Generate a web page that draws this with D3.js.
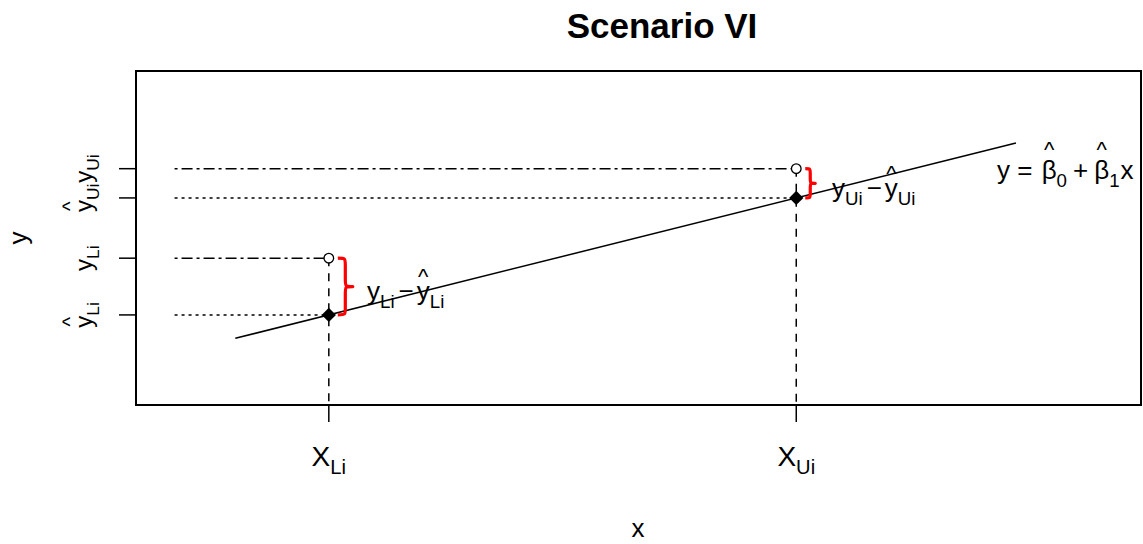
<!DOCTYPE html>
<html>
<head>
<meta charset="utf-8">
<script src="https://cdn.jsdelivr.net/npm/d3@7"></script>
<style>
  html, body { margin: 0; padding: 0; background: #fff; }
  svg { display: block; }
  text { font-family: "Liberation Sans", Arial, sans-serif; fill: #000; }
</style>
</head>
<body>
<svg id="chart" width="1143" height="544"></svg>
<script>
// Interval-valued regression, scenario VI: lower and upper bound of one observation
const pointLabels = ["Li", "Ui"];          // lower / upper bound subscripts
const xObs = [2, 6];                       // X_Li, X_Ui
const yObs = [2.97, 4.5];                  // observed y_Li, y_Ui
const yFit = [2, 4];                       // fitted ŷ_Li, ŷ_Ui
const lineX = [1.2, 7.88];                 // extent of the fitted line
const beta = [1, 0.5];                     // intercept, slope
const refStartX = 0.68;                    // where the guide lines begin
const xDomain = [0.35, 8.95];
const yDomain = [0.46, 6.17];

const W = 1143, H = 544;
const M = { left: 136, right: 1141, top: 71, bottom: 405 };

const svg = d3.select("#chart");
const x = d3.scaleLinear().domain(xDomain).range([M.left, M.right]);
const y = d3.scaleLinear().domain(yDomain).range([M.bottom, M.top]);

// Text built from pieces: plain, subscript and hatted glyphs
function richText(parent, segs, size, opts = {}) {
  const g = parent.append("g");
  let cx = 0;
  segs.forEach(s => {
    cx += s.pre || 0;
    const fs = s.sub ? size * 0.72 : size;
    const t = g.append("text")
      .attr("x", cx)
      .attr("y", s.sub ? size * 0.3 : 0)
      .attr("font-size", fs)
      .style("white-space", "pre")
      .text(s.t);
    const w = t.node().getComputedTextLength();
    if (s.hat) {
      g.append("text")
        .attr("x", cx + w / 2)
        .attr("y", -size * (s.hatLift || 0.62))
        .attr("text-anchor", "middle")
        .attr("font-size", size * 0.85)
        .text("^");
    }
    cx += w + (s.gap || 0);
  });
  if (opts.anchor === "middle") g.attr("transform", `translate(${-cx / 2},0)`);
  return g;
}

// Plot frame
svg.append("rect")
  .attr("x", M.left).attr("y", M.top)
  .attr("width", M.right - M.left).attr("height", M.bottom - M.top)
  .attr("fill", "none").attr("stroke", "#000").attr("stroke-width", 2);

// Horizontal guides: fitted values dotted, observed values dot-dash
xObs.forEach((xv, i) => {
  svg.append("line")
    .attr("x1", x(refStartX)).attr("x2", x(xv))
    .attr("y1", y(yFit[i])).attr("y2", y(yFit[i]))
    .attr("stroke", "#000").attr("stroke-width", 1.5)
    .attr("stroke-dasharray", "3,4");
  svg.append("line")
    .attr("x1", x(refStartX)).attr("x2", x(xv))
    .attr("y1", y(yObs[i])).attr("y2", y(yObs[i]))
    .attr("stroke", "#000").attr("stroke-width", 1.5)
    .attr("stroke-dasharray", "3,4,11,4");
  // vertical dashed drop to the axis
  svg.append("line")
    .attr("x1", x(xv)).attr("x2", x(xv))
    .attr("y1", y(yObs[i])).attr("y2", y(yDomain[0]))
    .attr("stroke", "#000").attr("stroke-width", 1.5)
    .attr("stroke-dasharray", "8,7");
});

// Fitted regression line
svg.append("line")
  .attr("x1", x(lineX[0])).attr("y1", y(beta[0] + beta[1] * lineX[0]))
  .attr("x2", x(lineX[1])).attr("y2", y(beta[0] + beta[1] * lineX[1]))
  .attr("stroke", "#000").attr("stroke-width", 1.5);

// Curly braces marking the residuals
function bracePath(bx, y1, y2, w) {
  const h = w / 2, ym = (y1 + y2) / 2;
  const r = Math.min(h, (y2 - y1) / 4);
  return `M${bx},${y1}` +
    `C${bx + h},${y1} ${bx + h},${y1} ${bx + h},${y1 + r}` +
    `L${bx + h},${ym - r}` +
    `C${bx + h},${ym} ${bx + h},${ym} ${bx + w},${ym}` +
    `C${bx + h},${ym} ${bx + h},${ym} ${bx + h},${ym + r}` +
    `L${bx + h},${y2 - r}` +
    `C${bx + h},${y2} ${bx + h},${y2} ${bx},${y2}`;
}
const braceW = [15, 10];
xObs.forEach((xv, i) => {
  svg.append("path")
    .attr("d", bracePath(x(xv) + 9, y(yObs[i]), y(yFit[i]), braceW[i]))
    .attr("fill", "none").attr("stroke", "#ff0000").attr("stroke-width", 3.2)
    .attr("stroke-linejoin", "round");
});

// Observed (open circle) and fitted (filled diamond) points
xObs.forEach((xv, i) => {
  svg.append("circle")
    .attr("cx", x(xv)).attr("cy", y(yObs[i])).attr("r", 4.8)
    .attr("fill", "#fff").attr("stroke", "#000").attr("stroke-width", 1.3);
  svg.append("path")
    .attr("d", d3.symbol(d3.symbolDiamond2, 130)())
    .attr("transform", `translate(${x(xv)},${y(yFit[i])})`)
    .attr("fill", "#000");
});

// Residual labels
const resid = [
  { px: 367, py: 300 },
  { px: 832, py: 197 }
];
pointLabels.forEach((lab, i) => {
  const g = richText(svg, [
    { t: "y" }, { t: lab, sub: true, gap: 4 },
    { t: "\u2212", gap: 3 },
    { t: "y", hat: true }, { t: lab, sub: true }
  ], 26);
  g.attr("transform", `translate(${resid[i].px},${resid[i].py})`);
});

// Model equation
const eq = richText(svg, [
  { t: "y = ", gap: 2 },
  { t: "\u03b2", hat: true, hatLift: 0.84 }, { t: "0", sub: true, gap: 6 },
  { t: "+", gap: 6 },
  { t: "\u03b2", hat: true, hatLift: 0.84 }, { t: "1", sub: true, gap: 1 },
  { t: "x" }
], 26);
eq.attr("transform", "translate(997,179)");

// X axis ticks and labels
xObs.forEach((xv, i) => {
  svg.append("line")
    .attr("x1", x(xv)).attr("x2", x(xv))
    .attr("y1", M.bottom).attr("y2", M.bottom + 17)
    .attr("stroke", "#000").attr("stroke-width", 1.5);
  const g = svg.append("g").attr("transform", `translate(${x(xv)},466)`);
  richText(g, [{ t: "X" }, { t: pointLabels[i], sub: true }], 28, { anchor: "middle" });
});

// Y axis ticks with rotated labels
const yTicks = [
  { v: yFit[0], hat: true, lab: pointLabels[0] },
  { v: yObs[0], hat: false, lab: pointLabels[0] },
  { v: yFit[1], hat: true, lab: pointLabels[1] },
  { v: yObs[1], hat: false, lab: pointLabels[1] }
];
yTicks.forEach(t => {
  svg.append("line")
    .attr("x1", M.left - 17).attr("x2", M.left)
    .attr("y1", y(t.v)).attr("y2", y(t.v))
    .attr("stroke", "#000").attr("stroke-width", 1.5);
  const g = svg.append("g").attr("transform", `translate(92,${y(t.v)}) rotate(-90)`);
  richText(g, [{ t: "y", hat: t.hat }, { t: t.lab, sub: true }], 24, { anchor: "middle" });
});

// Titles
svg.append("text")
  .attr("x", 662).attr("y", 38)
  .attr("text-anchor", "middle")
  .attr("font-size", 35).attr("font-weight", "bold")
  .text("Scenario VI");
svg.append("text")
  .attr("x", 638).attr("y", 537)
  .attr("text-anchor", "middle")
  .attr("font-size", 26)
  .text("x");
svg.append("text")
  .attr("transform", "translate(27,238) rotate(-90)")
  .attr("text-anchor", "middle")
  .attr("font-size", 26)
  .text("y");
</script>
</body>
</html>
